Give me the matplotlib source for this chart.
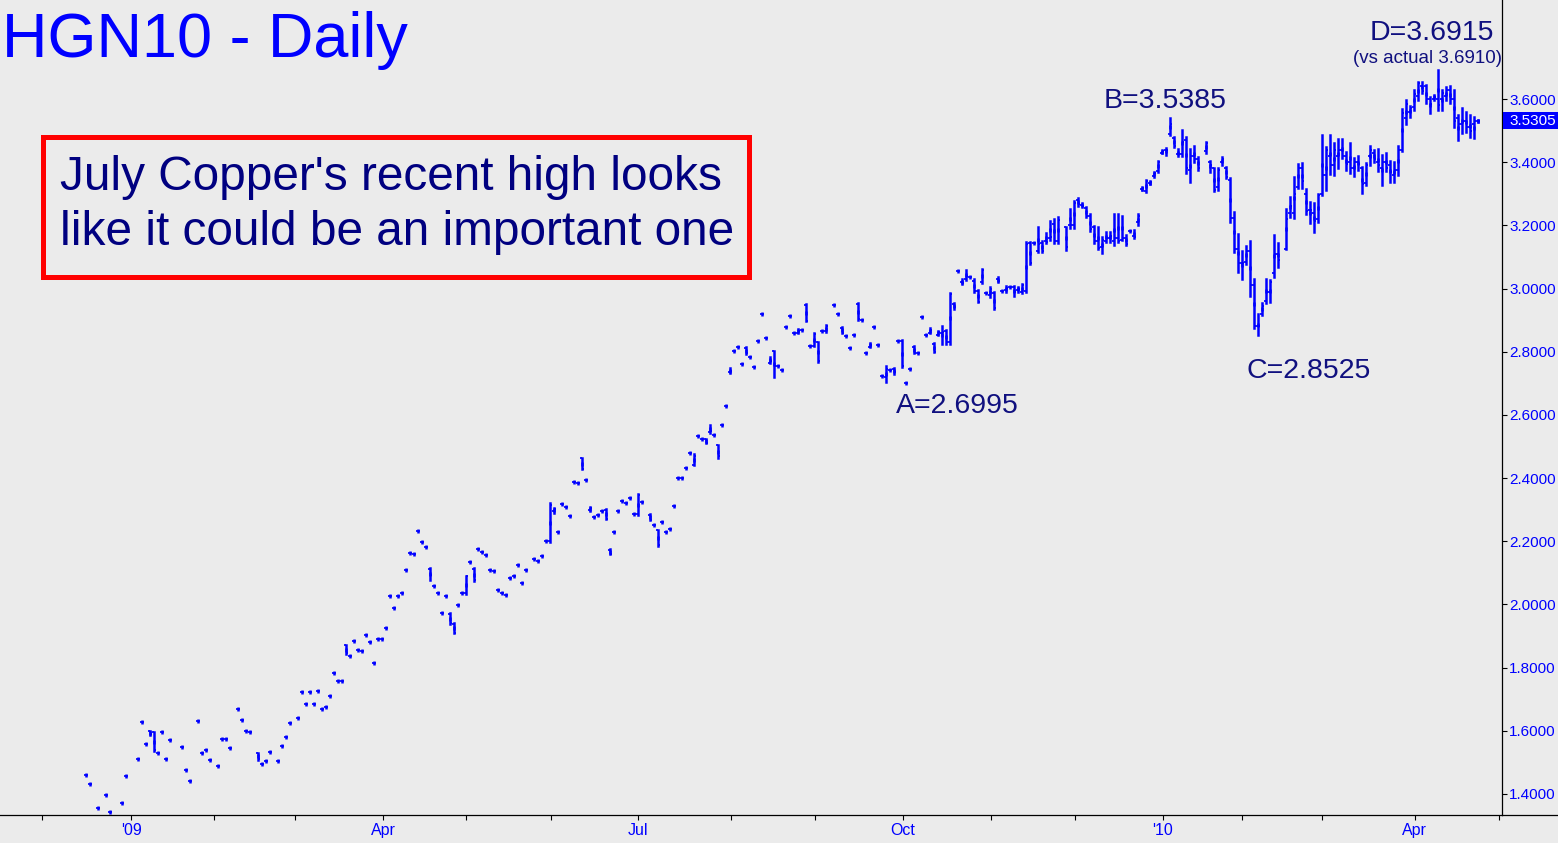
import matplotlib
matplotlib.use('Agg')
import matplotlib.pyplot as plt
import matplotlib.transforms as mtransforms
from matplotlib.collections import LineCollection
from matplotlib.patches import Rectangle
from matplotlib.lines import Line2D

plt.rcParams['font.family'] = ['Liberation Sans', 'DejaVu Sans']

# ---------------- data (one entry per daily slot, None = no trade) ----------------
first_slot = 11

highs = [
    1.459, 1.431, None, 1.355, None, 1.396, 1.342, None, None, 1.370,
    1.456, None, None, 1.510, 1.627, 1.558, 1.600, 1.596, 1.530, 1.595,
    1.510, 1.570, None, None, 1.548, 1.475, 1.440, None, 1.630, 1.529,
    1.538, 1.507, None, 1.488, 1.573, 1.573, 1.545, None, 1.668, 1.633,
    1.598, 1.595, None, 1.530, 1.494, 1.504, 1.532, None, 1.504, 1.551,
    1.580, 1.624, None, 1.640, 1.722, 1.684, 1.722, 1.684, 1.725, 1.668,
    1.674, 1.709, 1.782, 1.757, 1.757, 1.871, 1.836, 1.883, 1.855, 1.852,
    1.902, 1.880, 1.814, 1.890, 1.890, 1.924, 2.026, 1.988, 2.026, 2.035,
    2.108, 2.162, 2.159, 2.232, 2.197, 2.181, 2.114, 2.057, 2.035, 1.972,
    2.028, 1.972, 1.940, 1.997, 2.035, 2.091, 2.133, 2.114, 2.175, 2.165,
    2.156, 2.108, 2.105, 2.045, 2.035, 2.029, 2.083, 2.089, 2.124, 2.067,
    2.108, None, 2.143, 2.137, 2.152, 2.200, 2.320, 2.305, 2.228, 2.317,
    2.308, 2.279, 2.387, 2.384, 2.463, 2.393, 2.308, 2.276, 2.282, 2.295,
    2.301, 2.175, 2.228, 2.295, 2.327, 2.320, 2.336, 2.285, 2.349, 2.323,
    None, 2.285, 2.251, 2.235, 2.260, 2.228, 2.238, 2.311, 2.399, 2.399,
    2.431, 2.478, 2.475, 2.532, 2.523, 2.523, 2.567, 2.535, 2.504, 2.567,
    2.627, 2.747, 2.801, 2.814, 2.760, 2.814, 2.782, 2.751, 2.833, 2.918,
    2.842, 2.782, 2.801, 2.754, 2.741, 2.877, 2.912, 2.858, 2.871, 2.868,
    2.950, 2.817, 2.858, 2.830, 2.865, 2.884, None, 2.947, 2.918, 2.877,
    2.849, 2.811, 2.852, 2.953, 2.899, 2.795, 2.827, 2.877, 2.822, 2.722,
    2.754, 2.741, 2.747, 2.833, 2.836, 2.6995, 2.744, 2.817, 2.795, 2.909,
    2.852, 2.874, 2.827, 2.865, 2.882, 2.869, 2.985, 2.955, 3.057, 3.029,
    3.059, 3.035, 3.029, 2.995, 3.061, 2.985, 3.004, 2.988, 3.035, 2.992,
    3.008, 3.004, 3.008, 3.004, 3.014, 3.146, 3.148, 3.145, 3.194, 3.150,
    3.175, 3.215, 3.219, 3.225, None, 3.196, 3.251, 3.278, 3.286, 3.270,
    3.257, 3.235, 3.198, 3.196, 3.162, 3.180, 3.180, 3.235, 3.235, 3.230,
    3.169, 3.182, 3.185, 3.235, 3.320, 3.344, 3.340, 3.370, 3.404, 3.438,
    3.446, 3.5385, 3.479, 3.441, 3.502, 3.479, 3.441, 3.451, 3.417, None,
    3.465, 3.404, 3.381, 3.381, 3.417, 3.386, 3.349, 3.243, 3.173, 3.119,
    3.135, 3.152, 3.029, 2.918, 2.953, 3.029, 3.027, 3.170, 3.143, None,
    3.251, 3.289, 3.354, 3.394, 3.396, 3.314, 3.275, 3.270, 3.298, 3.486,
    3.449, 3.486, 3.460, 3.473, 3.472, 3.433, 3.460, 3.412, 3.420, 3.386,
    3.398, 3.451, 3.438, 3.441, 3.423, 3.428, 3.404, 3.402, 3.451, 3.567,
    3.597, 3.578, 3.628, 3.655, 3.655, 3.644, 3.607, 3.613, 3.6915, 3.628,
    3.637, 3.641, 3.628, 3.549, 3.570, 3.560, 3.549, 3.544, 3.533,
]

lows = [
    1.459, 1.431, None, 1.355, None, 1.396, 1.342, None, None, 1.370,
    1.456, None, None, 1.510, 1.627, 1.558, 1.588, 1.536, 1.530, 1.595,
    1.510, 1.570, None, None, 1.548, 1.475, 1.440, None, 1.630, 1.529,
    1.538, 1.507, None, 1.488, 1.573, 1.573, 1.545, None, 1.668, 1.633,
    1.598, 1.595, None, 1.508, 1.494, 1.504, 1.532, None, 1.504, 1.551,
    1.580, 1.624, None, 1.640, 1.722, 1.684, 1.722, 1.684, 1.725, 1.668,
    1.674, 1.709, 1.782, 1.757, 1.757, 1.843, 1.836, 1.883, 1.855, 1.852,
    1.902, 1.880, 1.814, 1.890, 1.890, 1.924, 2.026, 1.988, 2.026, 2.035,
    2.108, 2.162, 2.159, 2.232, 2.197, 2.181, 2.077, 2.057, 2.035, 1.972,
    2.028, 1.938, 1.909, 1.997, 2.035, 2.033, 2.133, 2.074, 2.175, 2.165,
    2.156, 2.108, 2.105, 2.045, 2.035, 2.029, 2.083, 2.089, 2.124, 2.067,
    2.108, None, 2.143, 2.137, 2.152, 2.200, 2.197, 2.290, 2.228, 2.317,
    2.308, 2.279, 2.387, 2.384, 2.428, 2.393, 2.296, 2.276, 2.282, 2.295,
    2.270, 2.159, 2.228, 2.295, 2.327, 2.320, 2.336, 2.285, 2.282, 2.323,
    None, 2.266, 2.251, 2.184, 2.260, 2.228, 2.238, 2.311, 2.399, 2.399,
    2.431, 2.478, 2.440, 2.532, 2.523, 2.510, 2.542, 2.535, 2.462, 2.567,
    2.627, 2.732, 2.801, 2.814, 2.760, 2.792, 2.782, 2.751, 2.833, 2.918,
    2.842, 2.763, 2.721, 2.754, 2.741, 2.877, 2.912, 2.858, 2.858, 2.868,
    2.896, 2.817, 2.817, 2.766, 2.865, 2.861, None, 2.947, 2.918, 2.858,
    2.849, 2.811, 2.852, 2.899, 2.899, 2.795, 2.814, 2.877, 2.822, 2.722,
    2.705, 2.741, 2.728, 2.833, 2.751, 2.6995, 2.744, 2.795, 2.795, 2.909,
    2.852, 2.858, 2.798, 2.852, 2.826, 2.826, 2.826, 2.934, 3.057, 3.014,
    3.027, 3.035, 2.990, 2.956, 3.016, 2.985, 2.974, 2.935, 3.022, 2.992,
    2.990, 3.004, 2.976, 2.990, 2.985, 2.990, 3.078, 3.145, 3.115, 3.115,
    3.143, 3.154, 3.145, 3.143, None, 3.122, 3.191, 3.191, 3.261, 3.259,
    3.227, 3.183, 3.143, 3.124, 3.111, 3.146, 3.148, 3.138, 3.148, 3.154,
    3.138, 3.182, 3.159, 3.201, 3.312, 3.307, 3.331, 3.352, 3.370, 3.428,
    3.423, 3.486, 3.449, 3.420, 3.420, 3.365, 3.336, 3.402, 3.375, None,
    3.430, 3.370, 3.309, 3.312, 3.391, 3.349, 3.212, 3.115, 3.053, 3.029,
    3.077, 2.976, 2.876, 2.8525, 2.916, 2.955, 2.956, 3.038, 3.067, None,
    3.125, 3.225, 3.222, 3.317, 3.317, 3.235, 3.206, 3.178, 3.212, 3.296,
    3.312, 3.363, 3.359, 3.381, 3.412, 3.375, 3.365, 3.356, 3.375, 3.303,
    3.328, 3.391, 3.402, 3.373, 3.328, 3.373, 3.338, 3.336, 3.359, 3.436,
    3.520, 3.544, 3.565, 3.597, 3.618, 3.586, 3.555, 3.597, 3.565, 3.565,
    3.597, 3.586, 3.512, 3.470, 3.491, 3.497, 3.481, 3.475, 3.528,
]

opens = [
    1.459, 1.431, None, 1.355, None, 1.396, 1.342, None, None, 1.370,
    1.456, None, None, 1.510, 1.627, 1.558, 1.598, 1.595, 1.530, 1.595,
    1.510, 1.570, None, None, 1.548, 1.475, 1.440, None, 1.630, 1.529,
    1.538, 1.507, None, 1.488, 1.573, 1.573, 1.545, None, 1.668, 1.633,
    1.598, 1.595, None, 1.530, 1.494, 1.504, 1.532, None, 1.504, 1.551,
    1.580, 1.624, None, 1.640, 1.722, 1.684, 1.722, 1.684, 1.725, 1.668,
    1.674, 1.709, 1.782, 1.757, 1.757, 1.871, 1.836, 1.883, 1.855, 1.852,
    1.902, 1.880, 1.814, 1.890, 1.890, 1.924, 2.026, 1.988, 2.026, 2.035,
    2.108, 2.162, 2.159, 2.232, 2.197, 2.181, 2.112, 2.057, 2.035, 1.972,
    2.028, 1.970, 1.938, 1.997, 2.035, 2.035, 2.133, 2.112, 2.175, 2.165,
    2.156, 2.108, 2.105, 2.045, 2.035, 2.029, 2.083, 2.089, 2.124, 2.067,
    2.108, None, 2.143, 2.137, 2.152, 2.200, 2.200, 2.295, 2.228, 2.317,
    2.308, 2.279, 2.387, 2.384, 2.463, 2.393, 2.300, 2.276, 2.282, 2.295,
    2.300, 2.172, 2.228, 2.295, 2.327, 2.320, 2.336, 2.285, 2.285, 2.323,
    None, 2.284, 2.251, 2.235, 2.260, 2.228, 2.238, 2.311, 2.399, 2.399,
    2.431, 2.478, 2.440, 2.532, 2.523, 2.523, 2.545, 2.535, 2.504, 2.567,
    2.627, 2.735, 2.801, 2.814, 2.760, 2.812, 2.782, 2.751, 2.833, 2.918,
    2.842, 2.765, 2.801, 2.754, 2.741, 2.877, 2.912, 2.858, 2.860, 2.868,
    2.948, 2.817, 2.818, 2.830, 2.865, 2.864, None, 2.947, 2.918, 2.875,
    2.849, 2.811, 2.852, 2.952, 2.899, 2.795, 2.815, 2.877, 2.822, 2.722,
    2.720, 2.741, 2.744, 2.833, 2.835, 2.6995, 2.744, 2.815, 2.795, 2.909,
    2.852, 2.860, 2.826, 2.853, 2.860, 2.865, 2.830, 2.950, 3.057, 3.020,
    3.030, 3.035, 3.025, 2.993, 3.020, 2.985, 2.980, 2.985, 3.030, 2.992,
    2.995, 3.004, 3.005, 2.995, 2.990, 2.992, 3.145, 3.145, 3.120, 3.145,
    3.150, 3.160, 3.205, 3.150, None, 3.195, 3.200, 3.200, 3.280, 3.265,
    3.255, 3.230, 3.195, 3.150, 3.130, 3.150, 3.160, 3.150, 3.160, 3.155,
    3.160, 3.182, 3.165, 3.210, 3.314, 3.310, 3.334, 3.355, 3.372, 3.430,
    3.440, 3.490, 3.475, 3.425, 3.425, 3.470, 3.375, 3.420, 3.410, None,
    3.435, 3.400, 3.380, 3.320, 3.400, 3.380, 3.345, 3.222, 3.125, 3.080,
    3.085, 3.120, 3.010, 2.880, 2.920, 2.960, 2.990, 3.050, 3.110, None,
    3.125, 3.240, 3.240, 3.320, 3.380, 3.300, 3.250, 3.240, 3.220, 3.300,
    3.360, 3.420, 3.390, 3.420, 3.440, 3.420, 3.400, 3.380, 3.400, 3.380,
    3.335, 3.420, 3.430, 3.400, 3.380, 3.400, 3.390, 3.360, 3.375, 3.440,
    3.540, 3.560, 3.575, 3.610, 3.640, 3.640, 3.600, 3.600, 3.600, 3.600,
    3.610, 3.630, 3.600, 3.540, 3.520, 3.530, 3.510, 3.520, 3.530,
]

closes = [
    1.459, 1.431, None, 1.355, None, 1.396, 1.342, None, None, 1.370,
    1.456, None, None, 1.510, 1.627, 1.558, 1.590, 1.540, 1.530, 1.595,
    1.510, 1.570, None, None, 1.548, 1.475, 1.440, None, 1.630, 1.529,
    1.538, 1.507, None, 1.488, 1.573, 1.573, 1.545, None, 1.668, 1.633,
    1.598, 1.595, None, 1.510, 1.494, 1.504, 1.532, None, 1.504, 1.551,
    1.580, 1.624, None, 1.640, 1.722, 1.684, 1.722, 1.684, 1.725, 1.668,
    1.674, 1.709, 1.782, 1.757, 1.757, 1.846, 1.836, 1.883, 1.855, 1.852,
    1.902, 1.880, 1.814, 1.890, 1.890, 1.924, 2.026, 1.988, 2.026, 2.035,
    2.108, 2.162, 2.159, 2.232, 2.197, 2.181, 2.092, 2.057, 2.035, 1.972,
    2.028, 1.940, 1.911, 1.997, 2.035, 2.089, 2.133, 2.076, 2.175, 2.165,
    2.156, 2.108, 2.105, 2.045, 2.035, 2.029, 2.083, 2.089, 2.124, 2.067,
    2.108, None, 2.143, 2.137, 2.152, 2.200, 2.314, 2.301, 2.228, 2.317,
    2.308, 2.279, 2.387, 2.384, 2.430, 2.393, 2.304, 2.276, 2.282, 2.295,
    2.272, 2.160, 2.228, 2.295, 2.327, 2.320, 2.336, 2.285, 2.346, 2.323,
    None, 2.268, 2.251, 2.187, 2.260, 2.228, 2.238, 2.311, 2.399, 2.399,
    2.431, 2.478, 2.470, 2.532, 2.523, 2.512, 2.548, 2.535, 2.470, 2.567,
    2.627, 2.740, 2.801, 2.814, 2.760, 2.795, 2.782, 2.751, 2.833, 2.918,
    2.842, 2.772, 2.755, 2.754, 2.741, 2.877, 2.912, 2.858, 2.866, 2.868,
    2.898, 2.817, 2.855, 2.770, 2.865, 2.880, None, 2.947, 2.918, 2.860,
    2.849, 2.811, 2.852, 2.902, 2.899, 2.795, 2.822, 2.877, 2.822, 2.722,
    2.745, 2.741, 2.735, 2.833, 2.755, 2.6995, 2.744, 2.797, 2.795, 2.909,
    2.852, 2.870, 2.800, 2.862, 2.862, 2.830, 2.982, 2.940, 3.057, 3.016,
    3.040, 3.035, 2.992, 2.958, 3.058, 2.985, 3.000, 2.938, 3.025, 2.992,
    3.003, 3.004, 2.990, 3.000, 3.010, 3.140, 3.082, 3.145, 3.140, 3.120,
    3.148, 3.162, 3.150, 3.218, None, 3.130, 3.200, 3.270, 3.268, 3.262,
    3.230, 3.188, 3.150, 3.128, 3.155, 3.160, 3.165, 3.160, 3.150, 3.160,
    3.140, 3.182, 3.162, 3.230, 3.318, 3.340, 3.338, 3.365, 3.400, 3.435,
    3.440, 3.520, 3.452, 3.425, 3.465, 3.380, 3.420, 3.410, 3.380, None,
    3.460, 3.390, 3.312, 3.375, 3.410, 3.352, 3.222, 3.125, 3.080, 3.080,
    3.120, 3.010, 2.880, 2.880, 2.945, 2.990, 3.020, 3.110, 3.090, None,
    3.220, 3.260, 3.300, 3.380, 3.340, 3.245, 3.250, 3.215, 3.295, 3.360,
    3.440, 3.390, 3.440, 3.440, 3.420, 3.395, 3.380, 3.400, 3.395, 3.330,
    3.390, 3.440, 3.410, 3.390, 3.400, 3.380, 3.370, 3.375, 3.440, 3.555,
    3.585, 3.570, 3.615, 3.650, 3.625, 3.600, 3.585, 3.605, 3.580, 3.620,
    3.630, 3.600, 3.530, 3.520, 3.530, 3.510, 3.500, 3.530, 3.5305,
]

month_tick_slots = [0, 22.25, 43, 63.25, 85.25, 106, 127.25, 149, 172.25, 193.25,
                    215.15, 237.25, 258.25, 280.15, 300.1, 320, 343.2, 364.15]
month_tick_labels = ['', "'09", '', '', 'Apr', '', '', 'Jul', '', '',
                     'Oct', '', '', "'10", '', '', 'Apr', '']
price_ticks = [1.4, 1.6, 1.8, 2.0, 2.2, 2.4, 2.6, 2.8, 3.0, 3.2, 3.4, 3.6]

title_text = 'HGN10 - Daily'
box_lines = ["July Copper's recent high looks", "like it could be an important one"]
label_A, label_B, label_C, label_D = 2.6995, 3.5385, 2.8525, 3.6915
actual_D = 3.6910

# ---------------- figure ----------------
W, H = 1558, 843
BG = '#EBEBEB'
BAR = '#0000FF'
NAVY = '#10107F'

fig = plt.figure(figsize=(W / 100, H / 100), dpi=100, facecolor=BG)
ax = fig.add_axes([0, 28 / H, 1502 / W, 815 / H], facecolor=BG)
ax.set_xlim(-10.5, 365)
ax.set_ylim(1.3334, 3.9134)

vsegs, osegs, csegs, mk_x, mk_y = [], [], [], [], []
for i, (o, h, l, c) in enumerate(zip(opens, highs, lows, closes)):
    if h is None:
        continue
    k = first_slot + i
    vsegs.append([(k, l), (k, h)])
    osegs.append([(k - 0.55, o), (k, o)])
    csegs.append([(k, c), (k + 0.55, c)])
    mk_x.append(k)
    mk_y.append((h + l) / 2)

ax.add_collection(LineCollection(vsegs, colors=BAR, linewidths=1.8,
                                 capstyle='projecting', antialiaseds=True))
ax.add_collection(LineCollection(osegs, colors=BAR, linewidths=1.25,
                                 capstyle='butt', antialiaseds=True))
ax.add_collection(LineCollection(csegs, colors=BAR, linewidths=1.25,
                                 capstyle='butt', antialiaseds=True))
# small vertical body so that one-price days show as crosses
ax.plot(mk_x, mk_y, linestyle='none', marker='|', markersize=3.0,
        markeredgewidth=1.8, color=BAR)

# axes styling
for s in ('top', 'left'):
    ax.spines[s].set_visible(False)
for s in ('right', 'bottom'):
    ax.spines[s].set_color('black')
    ax.spines[s].set_linewidth(0.9)

ax.set_xticks(month_tick_slots)
ax.set_xticklabels(month_tick_labels)
ax.tick_params(axis='x', direction='out', length=3.6, width=0.8, color='black',
               labelcolor=BAR, labelsize=11.5, pad=2)
ax.yaxis.tick_right()
ax.set_yticks(price_ticks)
ax.set_yticklabels([f'{v:.4f}' for v in price_ticks])
ax.tick_params(axis='y', direction='out', length=3.6, width=0.8, color='black',
               labelcolor=BAR, labelsize=11, pad=1.5)

# bottom line continues under the price scale
fig.add_artist(Line2D([1502 / W, 1.0], [28 / H, 28 / H], transform=fig.transFigure,
                      color='black', linewidth=0.9))

# current price flag
last_close = closes[-1]
fig.canvas.draw()
y_disp = ax.transData.transform((0, last_close))[1]
ident = mtransforms.IdentityTransform()
fig.add_artist(Rectangle((1503, y_disp - 8.5), 56, 17, transform=ident,
                         facecolor=BAR, edgecolor='none'))
fig.text(1509, y_disp, f'{last_close:.4f}', transform=ident, color='white',
         fontsize=11, va='center', ha='left')

# title
fig.text(2 / W, 1 - 57 / H, title_text, fontsize=45.4, color=BAR,
         ha='left', va='baseline')

# red comment box
fig.add_artist(Rectangle((42.5 / W, 1 - 276.5 / H), 706 / W, 139 / H,
                         transform=fig.transFigure, fill=False,
                         edgecolor='#FF0000', linewidth=3.6))
fig.text(60 / W, 1 - 190 / H, box_lines[0], fontsize=34.4, color='#000080',
         ha='left', va='baseline')
fig.text(60 / W, 1 - 245 / H, box_lines[1], fontsize=34.4, color='#000080',
         ha='left', va='baseline')

# swing-point labels anchored to their bars
kA = first_slot + lows.index(label_A)
kB = first_slot + highs.index(label_B)
kC = first_slot + lows.index(label_C)
kD = first_slot + highs.index(label_D)
ann = dict(textcoords='offset pixels', ha='left', va='baseline', color=NAVY,
           fontsize=20.5)
ax.annotate(f'A={label_A:.4f}', xy=(kA, label_A), xytext=(-10, -29.5), **ann)
ax.annotate(f'B={label_B:.4f}', xy=(kB, label_B), xytext=(-66, 10.4), **ann)
ax.annotate(f'C={label_C:.4f}', xy=(kC, label_C), xytext=(-11, -43), **ann)
ax.annotate(f'D={label_D:.4f}', xy=(kD, label_D), xytext=(-68, 30), **ann)
ax.annotate(f'(vs actual {actual_D:.4f})', xy=(kD, label_D), xytext=(-85, 7),
            textcoords='offset pixels', ha='left', va='baseline', color=NAVY,
            fontsize=13.5, annotation_clip=False)

fig.savefig('out.png', dpi=100, facecolor=BG)
